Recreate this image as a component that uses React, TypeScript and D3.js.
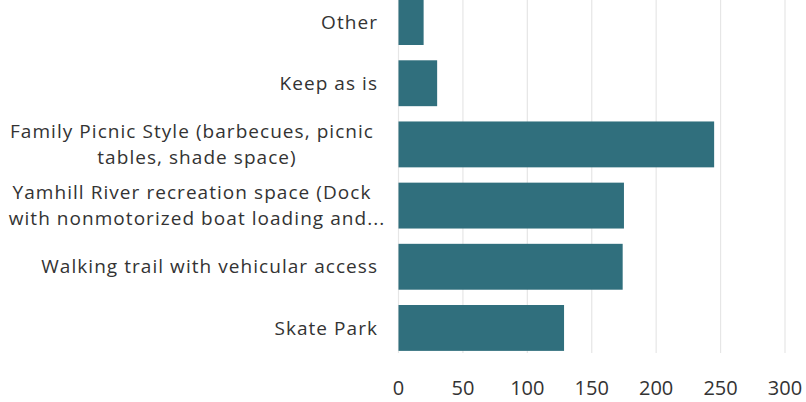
import React from "react";
import * as d3 from "d3";

const categories: string[][] = [
  ["Other"],
  ["Keep as is"],
  ["Family Picnic Style (barbecues, picnic", "tables, shade space)"],
  ["Yamhill River recreation space (Dock", "with nonmotorized boat loading and..."],
  ["Walking trail with vehicular access"],
  ["Skate Park"],
];
const values: number[] = [19.5, 30, 245, 175, 174, 128.5];
const tickValues: number[] = [0, 50, 100, 150, 200, 250, 300];

const W = 806;
const H = 402;
const FONT = "'Open Sans', sans-serif";
const FS = 19;
const LS = 1.05;

export default function App() {
  const x = d3.scaleLinear().domain([0, 300]).range([398.5, 785]);
  const idx = categories.map((_, i) => i);
  const y = d3.scaleBand<number>().domain(idx).range([-7, 357]).paddingInner(0.25).paddingOuter(0.1);
  const gridBottom = 353;
  return (
    <div style={{ position: "absolute", left: 0, top: 0 }}>
      <svg width={W} height={H} style={{ display: "block", background: "#fff" }}>
        {tickValues.map((t) => (
          <line key={"g" + t} x1={x(t)} x2={x(t)} y1={0} y2={gridBottom} stroke="#e6e6e6" strokeWidth={1.2} />
        ))}
        {values.map((v, i) => (
          <rect key={"b" + i} x={x(0)} y={y(i)!} width={x(v) - x(0)} height={y.bandwidth()} fill="#306f7d" />
        ))}
        {categories.map((lines, i) => {
          const cy = y(i)! + y.bandwidth() / 2;
          if (lines.length === 1) {
            return (
              <text key={"l" + i} x={378} y={cy} dy="0.35em" textAnchor="end" fontFamily={FONT} fontSize={FS} letterSpacing={LS} fill="#333">
                {lines[0]}
              </text>
            );
          }
          return (
            <g key={"l" + i}>
              <text x={192} y={cy - 13} dy="0.35em" textAnchor="middle" fontFamily={FONT} fontSize={FS} letterSpacing={LS} fill="#333">
                {lines[0]}
              </text>
              <text x={197} y={cy + 13} dy="0.35em" textAnchor="middle" fontFamily={FONT} fontSize={FS} letterSpacing={LS} fill="#333">
                {lines[1]}
              </text>
            </g>
          );
        })}
        {tickValues.map((t) => (
          <text key={"t" + t} x={x(t)} y={388} dy="0.35em" textAnchor="middle" fontFamily={FONT} fontSize={20} fill="#333">
            {t}
          </text>
        ))}
      </svg>
    </div>
  );
}
